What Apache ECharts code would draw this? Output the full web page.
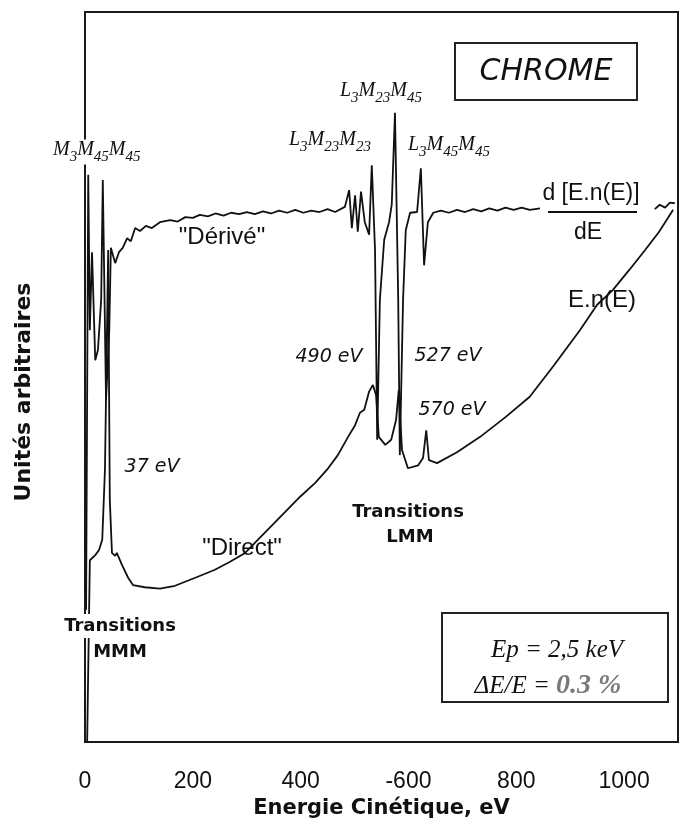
<!DOCTYPE html>
<html>
<head>
<meta charset="utf-8">
<script src="https://cdn.jsdelivr.net/npm/echarts@6/dist/echarts.min.js"></script>
<style>
  html, body { margin: 0; padding: 0; background: #fff; }
  #chart { width: 689px; height: 828px; }
</style>
</head>
<body>
<div id="chart"></div>
<script>
// energie (unités de l'axe) et signal (unités arbitraires)
const derivedEnergy = [2, 6, 9, 13, 19, 24, 30, 33, 39, 45, 48, 56, 63, 70, 78, 85, 93, 102, 113, 124, 139, 158, 172, 186, 200,
  213, 228, 242, 257, 271, 286, 300, 315, 330, 345, 360, 375, 390, 405, 420, 435, 450, 464, 482, 490, 495, 501, 506, 512,
  519, 527, 532, 538, 542, 547, 555, 564, 569, 575, 581, 584, 590, 595, 603, 616, 623, 629, 636, 646, 660, 675, 690, 705,
  720, 735, 750, 765, 780, 795, 810, 825, 844, 850, 1057, 1066, 1076, 1085, 1094]
const derivedSignal = [18.1, 77.7, 56.4, 67.1, 52.3, 53.7, 60.6, 77.0, 46.9, 56.4, 67.7, 65.6, 67.1, 67.7, 69.0, 68.6, 70.4, 70.0, 70.7, 70.4, 71.2, 71.5, 71.3, 71.9, 71.8,
  72.2, 72.0, 72.4, 72.1, 72.5, 72.3, 72.6, 72.3, 72.7, 72.4, 72.8, 72.5, 72.9, 72.5, 72.8, 72.6, 73.0, 72.6, 73.3, 75.6, 70.4, 74.9, 69.9, 75.4,
  71.2, 69.5, 79.0, 67.4, 41.4, 60.6, 68.8, 71.2, 73.6, 86.2, 60.6, 39.3, 60.6, 70.1, 72.5, 72.6, 78.6, 65.3, 71.2, 72.5, 72.8, 72.5, 72.9, 72.6,
  73.0, 72.7, 73.1, 72.8, 73.2, 72.9, 73.2, 72.9, 73.1, null, 73.0, 73.6, 73.2, 73.9, 73.8]

const directEnergy = [4, 9, 19, 26, 32, 37, 43, 46, 50, 56, 59, 69, 80, 89, 111, 139, 167, 208, 241, 269, 297, 330, 371, 399,
  427, 449, 469, 488, 501, 510, 518, 527, 534, 540, 545, 557, 568, 577, 582, 588, 599, 618, 627, 633, 638, 653, 690, 733,
  780, 825, 870, 918, 950, 979, 1010, 1039, 1065, 1091]
const directSignal = [0, 24.9, 25.6, 26.3, 27.7, 37.3, 67.4, 33.2, 25.9, 25.5, 25.9, 24.2, 22.5, 21.5, 21.2, 21.0, 21.4, 22.6, 23.6, 24.7, 25.9, 28.4, 31.5, 33.6,
  35.5, 37.3, 39.3, 41.8, 43.4, 45.1, 45.5, 48.0, 48.9, 47.5, 41.8, 40.7, 41.4, 44.1, 48.2, 40.0, 37.5, 37.9, 38.9, 42.7, 38.6, 38.2, 39.7, 41.8,
  44.5, 47.3, 51.6, 56.4, 59.9, 61.9, 64.7, 67.4, 69.9, 72.9]

const xTicks = [0, 200, 400, 600, 800, 1000]

const chart = echarts.init(document.getElementById('chart'))

const pair = (xs, ys) => xs.map((x, i) => [x, ys[i] === null ? '-' : ys[i]])

// styles des étiquettes
const sub = (main, subs, size) => ({
  rich: {
    m: { fontFamily: 'Liberation Serif', fontStyle: 'italic', fontSize: size, verticalAlign: 'bottom', padding: [0, 0, 5, 0], fill: '#111' },
    s: { fontFamily: 'Liberation Serif', fontStyle: 'italic', fontSize: size - 5, verticalAlign: 'bottom', fill: '#111' }
  },
  text: main.map((m, i) => '{m|' + m + '}{s|' + subs[i] + '}').join('')
})
const txt = (x, y, text, font, extra) => ({
  type: 'text', z: 100,
  style: Object.assign({ x: x, y: y, text: text, align: 'center', verticalAlign: 'middle', fill: '#111' }, font, extra || {})
})
const sans = (size, weight) => ({ fontFamily: 'Liberation Sans', fontSize: size, fontWeight: weight || 'normal' })
const bold = size => ({ fontFamily: 'DejaVu Sans', fontSize: size, fontWeight: 'bold' })
const ital = size => ({ fontFamily: 'DejaVu Sans', fontSize: size, fontStyle: 'italic' })

const option = {
  animation: false,
  backgroundColor: '#fff',
  grid: { left: 85, right: 11, top: 12, bottom: 86, show: true, borderColor: '#1a1a1a', borderWidth: 2 },
  xAxis: {
    type: 'value', min: 0, max: 1100, interval: 200,
    axisLine: { show: false }, axisTick: { show: false }, splitLine: { show: false },
    axisLabel: {
      margin: 28, fontFamily: 'Liberation Sans', fontSize: 23, color: '#111',
      formatter: v => xTicks.indexOf(v) < 0 ? '' : (v === 600 ? '-600' : String(v))
    },
    name: 'Energie Cinétique, eV', nameLocation: 'middle', nameGap: 55,
    nameTextStyle: { fontFamily: 'DejaVu Sans', fontWeight: 'bold', fontSize: 21, color: '#111' }
  },
  yAxis: {
    type: 'value', min: 0, max: 100,
    axisLine: { show: false }, axisTick: { show: false }, splitLine: { show: false }, axisLabel: { show: false }
  },
  series: [
    {
      name: 'Dérivé', type: 'line', showSymbol: false, connectNulls: false,
      lineStyle: { color: '#111', width: 1.8 },
      data: pair(derivedEnergy, derivedSignal)
    },
    {
      name: 'Direct', type: 'line', showSymbol: false,
      lineStyle: { color: '#111', width: 1.8 },
      data: pair(directEnergy, directSignal)
    }
  ],
  graphic: [
    { type: 'text', z: 100, style: Object.assign({ x: 53, y: 152, align: 'left', verticalAlign: 'middle', backgroundColor: '#fff' }, sub(['M', 'M', 'M'], ['3', '45', '45'], 20)) },
    { type: 'text', z: 100, style: Object.assign({ x: 340, y: 93, align: 'left', verticalAlign: 'middle' }, sub(['L', 'M', 'M'], ['3', '23', '45'], 20)) },
    { type: 'text', z: 100, style: Object.assign({ x: 289, y: 142, align: 'left', verticalAlign: 'middle' }, sub(['L', 'M', 'M'], ['3', '23', '23'], 20)) },
    { type: 'text', z: 100, style: Object.assign({ x: 408, y: 147, align: 'left', verticalAlign: 'middle' }, sub(['L', 'M', 'M'], ['3', '45', '45'], 20)) },

    { type: 'rect', z: 100, shape: { x: 455, y: 43, width: 182, height: 57 }, style: { fill: '#fff', stroke: '#222', lineWidth: 2 } },
    txt(546, 72, 'CHROME', { fontFamily: 'DejaVu Sans', fontStyle: 'italic', fontSize: 30, fontWeight: 'lighter' }),

    txt(591, 194, 'd [E.n(E)]', sans(23)),
    { type: 'line', z: 100, shape: { x1: 548, y1: 212, x2: 637, y2: 212 }, style: { stroke: '#111', lineWidth: 2 } },
    txt(588, 233, 'dE', sans(23)),
    txt(602, 300, 'E.n(E)', sans(24)),

    txt(222, 237, '"Dérivé"', sans(24)),
    txt(242, 548, '"Direct"', sans(24)),

    txt(329, 357, '490 eV', ital(19)),
    txt(448, 356, '527 eV', ital(19)),
    txt(452, 410, '570 eV', ital(19)),
    txt(152, 467, '37 eV', ital(19)),

    txt(408, 512, 'Transitions', bold(18)),
    txt(410, 537, 'LMM', bold(18)),
    txt(120, 626, 'Transitions', bold(18), { backgroundColor: '#fff', padding: [3, 2] }),
    txt(120, 652, 'MMM', bold(18), { backgroundColor: '#fff', padding: [3, 2] }),

    { type: 'rect', z: 100, shape: { x: 442, y: 613, width: 226, height: 89 }, style: { fill: '#fff', stroke: '#222', lineWidth: 2 } },
    txt(557, 650, 'Ep = 2,5 keV', { fontFamily: 'Liberation Serif', fontStyle: 'italic', fontSize: 25 }),
    {
      type: 'text', z: 100,
      style: {
        x: 548, y: 686, align: 'center', verticalAlign: 'middle',
        text: '{a|ΔE/E = }{b|0.3 %}',
        rich: {
          a: { fontFamily: 'Liberation Serif', fontStyle: 'italic', fontSize: 25, fill: '#111' },
          b: { fontFamily: 'Liberation Serif', fontStyle: 'italic', fontWeight: 'bold', fontSize: 28, fill: '#7a7a7a' }
        }
      }
    },

    {
      type: 'text', z: 100, x: 24, y: 392, rotation: Math.PI / 2,
      style: { x: 0, y: 0, text: 'Unités arbitraires', align: 'center', verticalAlign: 'middle', fontFamily: 'DejaVu Sans', fontWeight: 'bold', fontSize: 22, fill: '#111' }
    }
  ]
}

chart.setOption(option)
</script>
</body>
</html>
